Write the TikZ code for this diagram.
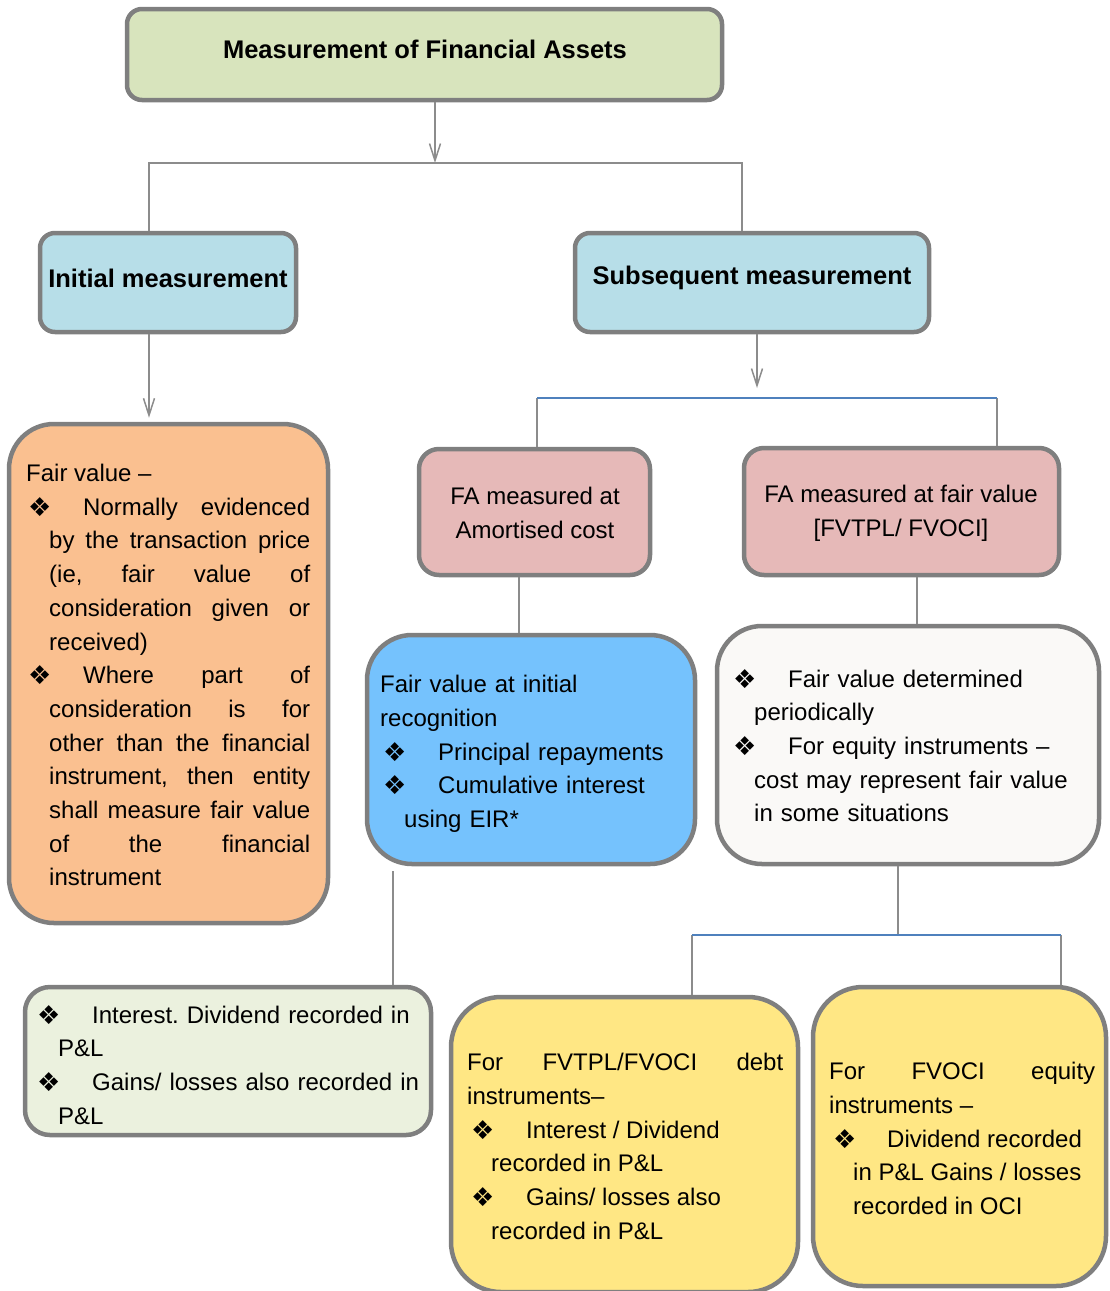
\documentclass[tikz,border=0pt]{standalone}
\usepackage{fontspec}
\setmainfont{Liberation Sans}
\newfontfamily\symf{DejaVu Sans}
\usetikzlibrary{arrows.meta}
\definecolor{bordergray}{HTML}{7F7F7F}
\definecolor{linegray}{HTML}{8C8C8C}
\definecolor{lineblue}{HTML}{4F81BD}
\definecolor{topgreen}{HTML}{D8E4BD}
\definecolor{lightblue}{HTML}{B7DEE8}
\definecolor{orangefill}{HTML}{FAC090}
\definecolor{pinkfill}{HTML}{E6B9B8}
\definecolor{bluefill}{HTML}{75C2FD}
\definecolor{whitefill}{HTML}{FAF9F7}
\definecolor{greenfill}{HTML}{EBF1DE}
\definecolor{yellowfill}{HTML}{FFE784}
\frenchspacing
\newcommand{\bul}{{\symf\fontsize{26}{26}\selectfont\raisebox{-1pt}{❖}}}
\newcommand{\bpf}[3]{\leftskip=#1pt\relax\hspace*{\dimexpr#2pt-#1pt\relax}\makebox[\dimexpr#3pt-#2pt\relax][l]{\bul}\ignorespaces}
\newcommand{\bp}[3]{\par\leftskip=#1pt\relax\noindent\hspace*{\dimexpr#2pt-#1pt\relax}\makebox[\dimexpr#3pt-#2pt\relax][l]{\bul}\ignorespaces}
\newcommand{\bx}[7]{\node[mybox,fill=#6,rounded corners=#7pt,minimum width=#4pt-#2pt,minimum height=#5pt-#3pt] (#1) at ({(#2+#4)/2},{(#3+#5)/2}) {};}
\tikzset{
  mybox/.style={draw=bordergray,line width=4.5pt,inner sep=0pt,shape=rectangle},
  conn/.style={draw=linegray,line width=1.5pt},
  arr/.style={conn,-{Straight Barb[length=17pt,width=11pt]}},
  blueline/.style={draw=lineblue,line width=2pt},
  txt/.style={anchor=north west,inner sep=0pt,font={\fontsize{24}{33.7}\selectfont\parindent=0pt\tolerance=10000\hbadness=10000\hyphenpenalty=10000\frenchspacing}},
  ctxt/.style={inner sep=0pt,align=center,font={\fontsize{24}{33.7}\selectfont}},
  title/.style={inner sep=0pt,align=center,font={\fontsize{25.5}{30}\selectfont\bfseries}}
}
\begin{document}
\begin{tikzpicture}[x=1pt,y=-1pt]
\useasboundingbox (0,0) rectangle (1110,1291);
% boxes
\bx{top}{127}{9}{722}{100}{topgreen}{15}
\bx{init}{40}{233}{296}{332}{lightblue}{15}
\bx{subs}{575}{233}{929}{332}{lightblue}{15}
\bx{fv}{9}{424}{328}{923}{orangefill}{45}
\bx{amort}{419}{449}{650}{575}{pinkfill}{20}
\bx{fafv}{744}{448}{1059}{575}{pinkfill}{20}
\bx{blue}{367}{635}{695}{864}{bluefill}{45}
\bx{white}{717}{626}{1099}{864}{whitefill}{45}
\bx{green}{25}{987}{431}{1135}{greenfill}{25}
\bx{debt}{451}{997}{798}{1292}{yellowfill}{50}
\bx{equity}{813}{987}{1106}{1286}{yellowfill}{50}
% coordinates
\coordinate (j1) at (435,163);
\coordinate (j1l) at (149,163);
\coordinate (j1r) at (742,163);
\coordinate (a2) at (757,388);
\coordinate (j2l) at (537,398);
\coordinate (j2r) at (997,398);
\coordinate (c1) at (519,0);
\coordinate (c2) at (917,0);
\coordinate (c3) at (393,871);
\coordinate (j3) at (898,935);
\coordinate (j3l) at (692,935);
\coordinate (j3r) at (1061,935);
% connectors
\draw[arr] (top.south -| j1) -- (j1);
\draw[conn] (init.north -| j1l) -- (j1l) -- (j1r) -- (subs.north -| j1r);
\draw[arr,shorten >=4pt] (init.south -| j1l) -- (fv.north -| j1l);
\draw[arr] (subs.south -| a2) -- (a2);
\draw[conn] (amort.north -| j2l) -- (j2l);
\draw[conn] (fafv.north -| j2r) -- (j2r);
\draw[blueline] (j2l) -- (j2r);
\draw[conn] (amort.south -| c1) -- (blue.north -| c1);
\draw[conn] (fafv.south -| c2) -- (white.north -| c2);
\draw[conn] (c3) -- (green.north -| c3);
\draw[conn] (white.south -| j3) -- (j3);
\draw[conn] (debt.north -| j3l) -- (j3l);
\draw[conn] (equity.north -| j3r) -- (j3r);
\draw[blueline] (j3l) -- (j3r);
% titles
\node[title] (t-top) at (425,49) {Measurement of Financial Assets};
\node[title] (t-init) at (168,278) {Initial measurement};
\node[title] (t-subs) at (752,278) {Subsequent measurement};
\node[ctxt] (t-am) at (535,513) {FA measured at\\Amortised cost};
\node[ctxt] (t-fafv) at (901,513) {FA measured at fair value\\{}[FVTPL/ FVOCI]};
% orange
\node[txt,text width=284pt,align=justify] (t-fv) at (26,464) {Fair value –%
\bp{23}{2}{57}Normally evidenced\linebreak by the transaction price\linebreak (ie, fair value of\linebreak consideration given or\linebreak received)%
\bp{23}{2}{57}Where part of\linebreak consideration is for\linebreak other than the financial\linebreak instrument, then entity\linebreak shall measure fair value\linebreak of the financial\linebreak instrument\par};
% blue
\node[txt,text width=310pt,align=left] (t-blue) at (380,675) {Fair value at initial\newline recognition%
\bp{24}{3}{58}Principal repayments%
\bp{24}{3}{58}Cumulative interest\newline using EIR*\par};
% white
\node[txt,text width=360pt,align=left] (t-white) at (733,669) {%
\bpf{21}{0}{55}Fair value determined\newline periodically%
\bp{21}{0}{55}For equity instruments –\newline cost may represent fair value\newline in some situations\par};
% green
\node[txt,text width=390pt,align=left] (t-green) at (37,1005) {%
\bpf{21}{0}{55}Interest. Dividend recorded in\newline P\&L%
\bp{21}{0}{55}Gains/ losses also recorded in\newline P\&L\par};
% debt
\node[txt,text width=316pt,align=justify] (t-debt) at (467,1053) {For FVTPL/FVOCI debt\linebreak instruments–%
\bp{24}{4}{59}Interest / Dividend\newline recorded in P\&L%
\bp{24}{4}{59}Gains/ losses also\newline recorded in P\&L\par};
% equity
\node[txt,text width=266pt,align=justify] (t-eq) at (829,1062) {For FVOCI equity\linebreak instruments –%
\bp{24}{4}{58}Dividend recorded\newline in P\&L Gains / losses\newline recorded in OCI\par};
\end{tikzpicture}
\end{document}
